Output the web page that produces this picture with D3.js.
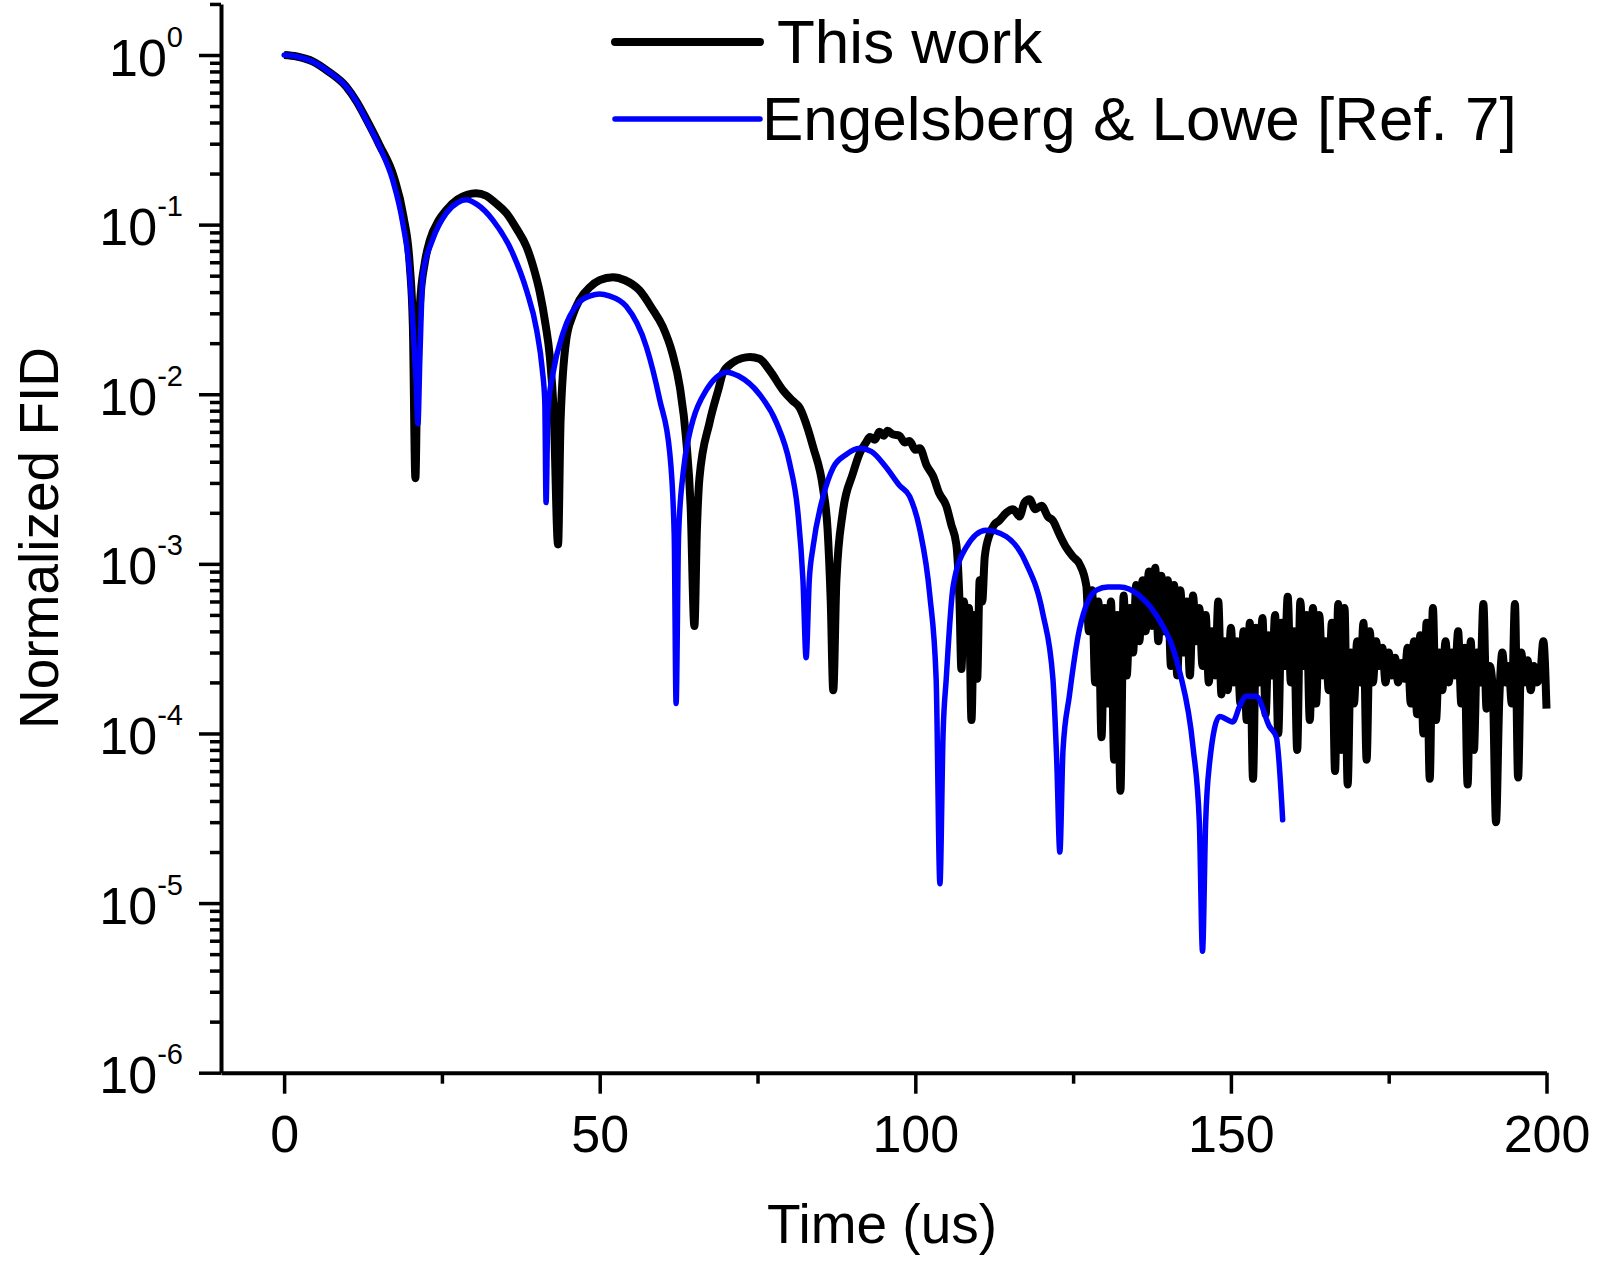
<!DOCTYPE html>
<html>
<head>
<meta charset="utf-8">
<script src="https://cdn.jsdelivr.net/npm/d3@7"></script>
<style>
  body { margin: 0; background: #fff; }
  svg { display: block; font-family: "Liberation Sans", Arial, sans-serif; }
</style>
</head>
<body>
<svg id="chart" width="1600" height="1263"></svg>
<script>
// series names for legend
const seriesNames = ["This work", "Engelsberg & Lowe [Ref. 7]"];

// [time (us), normalized FID]
const thisWork = [
  [0,1.0],[2,0.98],[4.6,0.915],[7,0.8],[9.85,0.65],[11.5,0.53],[13,0.42],[15.1,0.295],[17.4,0.19],
  [18.9,0.112],[19.9,0.058],[20.4,0.025],[20.8,0.0032],[21.1,0.014],[21.5,0.033],[22.3,0.06],[23.1,0.081],
  [24.5,0.106],[25.7,0.122],[27.5,0.141],[29,0.15],[30.4,0.153],[32,0.148],[33.5,0.134],[35.2,0.117],
  [36.8,0.095],[38.4,0.074],[39.5,0.056],[40.5,0.04],[41.4,0.026],[42.1,0.0166],[42.7,0.008],[43.4,0.0013],
  [43.8,0.007],[44.7,0.021],[45.7,0.029],[46.8,0.036],[48.5,0.043],[50,0.047],[52.1,0.049],[54,0.047],
  [56.3,0.041],[58.3,0.032],[60,0.025],[61.5,0.0175],[62.7,0.011],[63.7,0.0054],[64.4,0.0022],[65,0.00043],
  [65.4,0.0016],[65.8,0.0032],[67.4,0.0068],[68.9,0.011],[69.5,0.0133],[71,0.0153],[72.5,0.0163],[73.8,0.0166],
  [75.3,0.0162],[77,0.0137],[79,0.0106],[80.5,0.0092],[81.7,0.0083],[83,0.0062],[83.8,0.0049],[85.4,0.00275],
  [86.1,0.0016],[86.6,0.0006],[87,0.00018],[87.5,0.0008],[88.5,0.002],[90.1,0.0034],[91.2,0.0045],[92.2,0.0052],
  [92.8,0.0056],[93.6,0.0054],[94.3,0.006],[95,0.0057],[95.6,0.0061],[96.4,0.0058],[97.5,0.0057],[98.3,0.0052],
  [99.1,0.0053],[100,0.0047],[100.7,0.0048],[101.8,0.0038],[102.8,0.0033],[103.8,0.0026],[104.9,0.0022],
  [105.7,0.0017],[106.5,0.0013],[107,0.0006],[107.3,0.00024],[107.7,0.0006],[108.1,0.00035],[108.5,0.00055],
  [108.9,0.00012],[109.3,0.0005],[109.8,0.00021],[110.2,0.0008],[110.6,0.0006],[111,0.0011],[111.8,0.0015],
  [112.5,0.0017],[113.3,0.0018],[114.4,0.002],[115.5,0.0021],[116.5,0.0019],[117.3,0.0023],[118.1,0.0024],
  [119,0.0021],[120,0.0022],[121,0.0019],[121.8,0.0018],[122.8,0.0015],[123.9,0.00125],[125,0.0011],
  [126,0.001],[127.1,0.00074],
  // noisy tail
  [127.5,4.0e-4],[128,7.0e-4],[128.5,2.0e-4],[129,6.0e-4],[129.5,9.5e-5],[130,5.5e-4],[130.5,1.5e-4],
  [131,6.0e-4],[131.5,7.0e-5],[132,5.0e-4],[132.5,4.6e-5],[133,6.5e-4],[133.5,2.2e-4],[134,5.5e-4],
  [134.5,3.0e-4],[135,7.5e-4],[135.5,3.5e-4],[136,8.0e-4],[136.5,4.0e-4],[137,9.0e-4],[137.5,4.3e-4],
  [138,9.5e-4],[138.5,3.5e-4],[139,8.5e-4],[139.5,4.0e-4],[140,8.0e-4],[140.5,2.5e-4],[141,7.5e-4],
  [141.5,2.2e-4],[142,7.0e-4],[142.5,3.0e-4],[143,6.0e-4],[143.5,2.2e-4],[144,6.5e-4],[144.5,3.5e-4],
  [145,5.5e-4],[145.5,2.5e-4],[146,5.0e-4],[146.5,2.0e-4],[147,4.0e-4],[147.5,2.2e-4],[148,6.0e-4],
  [148.5,1.7e-4],[149,3.5e-4],[149.5,1.8e-4],[150,4.2e-4],[150.5,2.0e-4],[151,3.5e-4],[151.5,1.5e-4],
  [152,4.0e-4],[152.5,1.2e-4],[153,4.5e-4],[153.5,5.4e-5],[154,4.2e-4],[154.5,2.0e-4],[155,4.8e-4],
  [155.5,1.3e-4],[156,3.8e-4],[156.5,2.2e-4],[157,5.0e-4],[157.5,1.0e-4],[158,4.5e-4],[158.5,2.5e-4],
  [159,6.4e-4],[159.5,2.0e-4],[160,4.0e-4],[160.5,8.0e-5],[161,6.0e-4],[161.5,2.5e-4],[162,5.0e-4],
  [162.5,1.2e-4],[163,5.5e-4],[163.5,1.5e-4],[164,5.0e-4],[164.5,2.2e-4],[165,3.5e-4],[165.5,1.8e-4],
  [166,4.5e-4],[166.5,6.0e-5],[167,5.8e-4],[167.5,8.0e-5],[168,5.5e-4],[168.5,5.0e-5],[169,3.0e-4],
  [169.5,1.5e-4],[170,3.5e-4],[170.5,2.0e-4],[171,4.5e-4],[171.5,7.0e-5],[172,4.0e-4],[172.5,2.0e-4],
  [173,3.5e-4],[173.5,2.5e-4],[174,3.2e-4],[174.5,2.0e-4],[175,3.0e-4],[175.5,2.2e-4],[176,2.8e-4],
  [176.5,2.0e-4],[177,2.6e-4],[177.5,2.1e-4],[178,3.2e-4],[178.5,1.5e-4],[179,3.5e-4],[179.5,1.3e-4],
  [180,3.8e-4],[180.5,1.0e-4],[181,4.5e-4],[181.5,5.4e-5],[182,5.5e-4],[182.5,1.2e-4],[183,3.0e-4],
  [183.5,1.8e-4],[184,3.5e-4],[184.5,2.0e-4],[185,3.0e-4],[185.5,2.2e-4],[186,4.0e-4],[186.5,1.5e-4],
  [187,3.2e-4],[187.5,5.0e-5],[188,3.5e-4],[188.5,8.0e-5],[189,3.0e-4],[189.5,2.0e-4],[190,5.8e-4],
  [190.5,1.4e-4],[191,2.5e-4],[191.5,1.8e-4],[192,3.0e-5],[192.5,1.5e-4],[193,3.0e-4],[193.5,2.0e-4],
  [194,2.5e-4],[194.5,1.5e-4],[195,5.8e-4],[195.5,5.5e-5],[196,3.0e-4],[196.5,2.0e-4],[197,2.7e-4],
  [197.5,1.8e-4],[198,2.5e-4],[198.5,2.0e-4],[199,2.2e-4],[199.5,3.5e-4],[200,1.4e-4]
];

const engelsbergLowe = [
  [0,1.0],[2,0.98],[4.6,0.912],[7,0.8],[9.85,0.65],[11.5,0.53],[13,0.414],[15.1,0.288],[17.2,0.183],
  [18.8,0.102],[19.9,0.051],[20.4,0.026],[20.9,0.012],[21.2,0.0067],[21.5,0.016],[22,0.051],[23.5,0.081],
  [25.7,0.117],[27.5,0.135],[28.9,0.14],[30.5,0.132],[33.1,0.106],[36.2,0.068],[38.4,0.041],[40,0.024],
  [40.9,0.014],[41.3,0.009],[41.5,0.0023],[41.8,0.008],[42.6,0.0133],[44.2,0.023],[46.8,0.035],[48.5,0.038],
  [50,0.039],[51.5,0.038],[54.2,0.033],[57.4,0.019],[59.5,0.0093],[61.1,0.0045],[61.8,0.0015],[62.1,0.00015],
  [62.5,0.0015],[63.2,0.0034],[64.2,0.0058],[64.8,0.0071],[66.9,0.0106],[68.5,0.0126],[70.1,0.0135],[72,0.0128],
  [75.3,0.01],[78,0.0068],[80.1,0.0039],[81.4,0.002],[82.2,0.0008],[82.7,0.00028],[83.2,0.0008],[83.8,0.00126],
  [85.4,0.0025],[87,0.0037],[89,0.0044],[91.2,0.0048],[93,0.0046],[95.4,0.0037],[97.5,0.0029],[99.1,0.0025],
  [100.7,0.0016],[102.3,0.00065],[103.3,0.00021],[103.9,0.000013],[104.4,0.0001],[104.9,0.00021],[106,0.00074],
  [108.1,0.00126],[111.2,0.00158],[114.4,0.00145],[117.6,0.001],[120.2,0.00051],[121.8,0.00021],[122.4,0.00007],
  [122.9,0.00002],[123.4,0.00008],[124.4,0.000166],[126,0.00041],[128.7,0.0007],[130.5,0.00073],[132.4,0.00073],
  [135.5,0.00065],[139.2,0.00043],[140.8,0.00032],[141.9,0.00023],[144,0.000083],[145,0.00003],[145.5,0.0000052],
  [146,0.00003],[146.6,0.000066],[148.2,0.000126],[150.3,0.000117],[151.4,0.000145],[152.4,0.000166],
  [154,0.000166],[156.1,0.00011],[157.2,0.000095],[158.2,0.000031]
];

// axis ticks
const xMajorTicks = [0, 50, 100, 150, 200];
const xMinorTicks = [25, 75, 125, 175];
const yExponents = [0, -1, -2, -3, -4, -5, -6];

const svg = d3.select("#chart");

const x = d3.scaleLinear().domain([-10, 200]).range([221, 1546.5]);
const y = d3.scaleLog().domain([1e-6, 2]).range([1072.7, 3.95]);

const yMajor = yExponents.map(e => Math.pow(10, e));
let yMinor = [];
yExponents.forEach(e => {
  if (e === 0) { yMinor.push(2); return; }
  for (let m = 2; m <= 9; m++) yMinor.push(m * Math.pow(10, e));
});

// ---- axes ----
const styleAxis = (g) => {
  g.select(".domain").attr("stroke", "#000").attr("stroke-width", 4);
  g.selectAll(".tick line").attr("stroke", "#000").attr("stroke-width", 3.5);
};

// minor y ticks
svg.append("g")
  .attr("transform", `translate(${x(-10)},0)`)
  .call(d3.axisLeft(y).tickValues(yMinor).tickSize(11).tickSizeOuter(0).tickFormat(""))
  .call(styleAxis)
  .call(g => g.select(".domain").remove());

// major y ticks + labels
const yAxisG = svg.append("g")
  .attr("transform", `translate(${x(-10)},0)`)
  .call(d3.axisLeft(y).tickValues(yMajor).tickSize(22).tickSizeOuter(0).tickFormat(""))
  .call(styleAxis);

yAxisG.selectAll(".tick text").remove();
yAxisG.selectAll(".tick").each(function (d) {
  const t = d3.select(this).append("text")
    .attr("x", -38)
    .attr("y", 20)
    .attr("text-anchor", "end")
    .attr("fill", "#000")
    .style("font-size", "52px");
  t.append("tspan").text("10");
  t.append("tspan")
    .attr("dy", -29)
    .style("font-size", "29px")
    .text(Math.round(Math.log10(d)));
});

// x axis
svg.append("g")
  .attr("transform", `translate(0,${y(1e-6)})`)
  .call(d3.axisBottom(x).tickValues(xMinorTicks).tickSize(11).tickSizeOuter(0).tickFormat(""))
  .call(styleAxis)
  .call(g => g.select(".domain").remove());

const xAxisG = svg.append("g")
  .attr("transform", `translate(0,${y(1e-6)})`)
  .call(d3.axisBottom(x).tickValues(xMajorTicks).tickSize(21).tickSizeOuter(0).tickFormat(d3.format("d")))
  .call(styleAxis);

xAxisG.selectAll(".tick text")
  .attr("y", 79)
  .attr("dy", 0)
  .attr("fill", "#000")
  .style("font-size", "52px")
  .style("font-family", "'Liberation Sans', Arial, sans-serif");

// axis titles
svg.append("text")
  .attr("x", 882)
  .attr("y", 1243)
  .attr("text-anchor", "middle")
  .style("font-size", "55px")
  .text("Time (us)");

svg.append("text")
  .attr("transform", "translate(58,538) rotate(-90)")
  .attr("text-anchor", "middle")
  .style("font-size", "55px")
  .text("Normalized FID");

// ---- data lines ----
const line = d3.line()
  .curve(d3.curveMonotoneX)
  .x(d => x(d[0]))
  .y(d => y(d[1]));

svg.append("path")
  .datum(thisWork)
  .attr("fill", "none")
  .attr("stroke", "#000")
  .attr("stroke-width", 8)
  .attr("stroke-linejoin", "round")
  .attr("d", line);

svg.append("path")
  .datum(engelsbergLowe)
  .attr("fill", "none")
  .attr("stroke", "#0000ff")
  .attr("stroke-width", 5.5)
  .attr("stroke-linejoin", "round")
  .attr("stroke-linecap", "round")
  .attr("d", line);

// ---- legend ----
const legend = [
  { name: seriesNames[0], color: "#000", width: 8, ly: 42, tx: 777, ty: 63 },
  { name: seriesNames[1], color: "#0000ff", width: 5.5, ly: 119, tx: 762, ty: 140 }
];

legend.forEach(l => {
  svg.append("line")
    .attr("x1", 615).attr("x2", 760)
    .attr("y1", l.ly).attr("y2", l.ly)
    .attr("stroke", l.color)
    .attr("stroke-width", l.width)
    .attr("stroke-linecap", "round");
  svg.append("text")
    .attr("x", l.tx)
    .attr("y", l.ty)
    .style("font-size", "62px")
    .text(l.name);
});
</script>
</body>
</html>
